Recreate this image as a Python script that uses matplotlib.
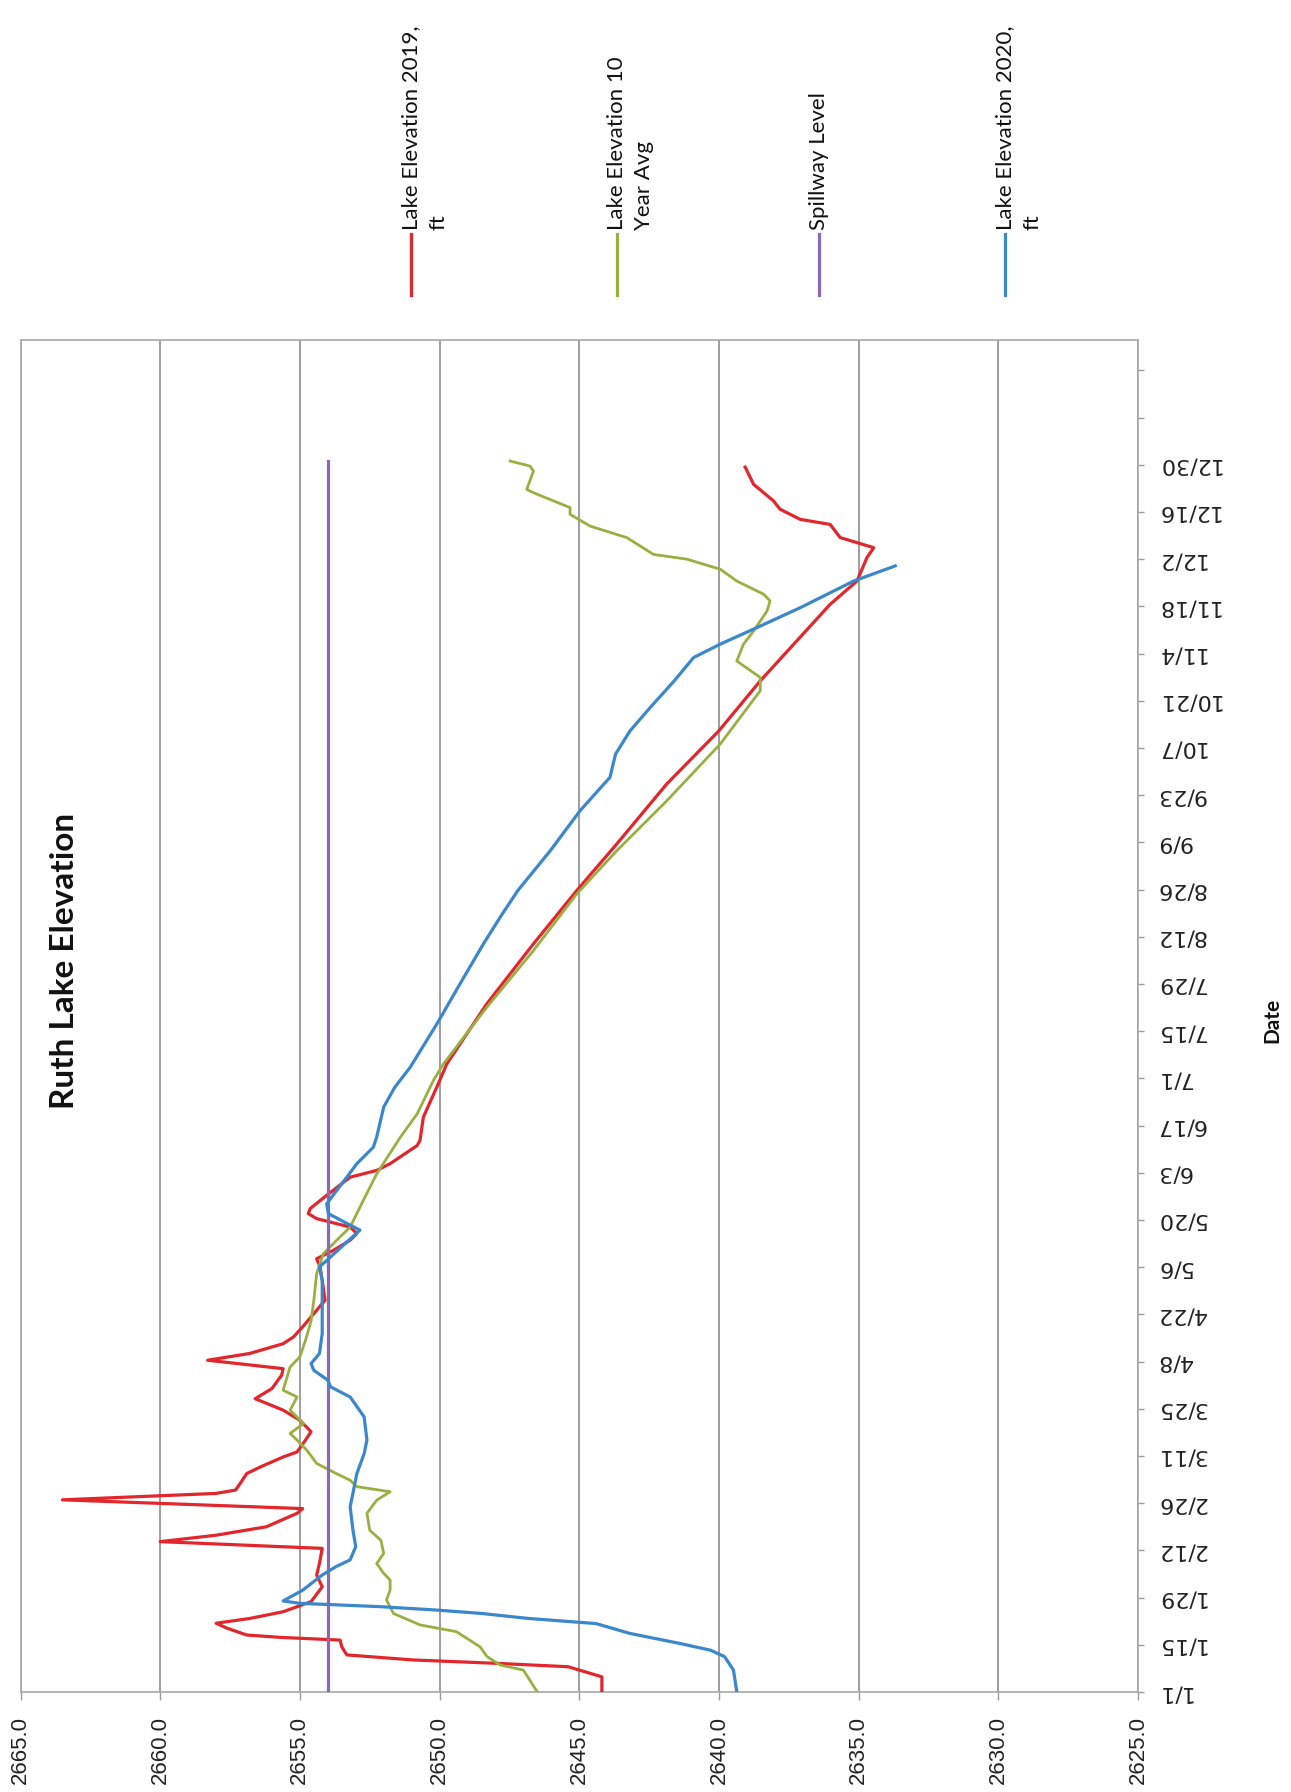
import numpy as np
import matplotlib
matplotlib.use("Agg")
import matplotlib.pyplot as plt
from matplotlib.lines import Line2D

# Day offsets from 1/1 (2020 is a leap year) and lake elevations in ft
days_2020 = [0, 6.5, 10.5, 12.4, 14.4, 17.4, 20.3, 21.8, 23.3, 24.3, 25.3, 26.3, 27.0, 30.2, 34.7,
             37.2, 39.2, 43.1, 48.0, 54.9, 64.8, 70.7, 74.7, 81.6, 87.5, 90.5, 92.5, 95.4, 97.4,
             100.4, 106.3, 113.2, 122.1, 126.1, 128.0, 137.0, 138.9, 141.9, 144.8, 148.8, 152.7,
             156.7, 161.6, 164.6, 173.5, 179.4, 185.3, 198.1, 210.0, 221.9, 229.8, 237.7, 249.5,
             261.4, 271.3, 278.2, 285.1, 292.0, 299.9, 306.8, 310.8, 315.7, 321.6, 329.5, 334.0]
elev_2020 = [2639.36, 2639.48, 2639.8, 2640.3, 2641.4, 2643.2, 2644.4, 2646.8, 2648.5, 2650.1,
             2652.1, 2655.0, 2655.6, 2654.9, 2654.2, 2653.7, 2653.2, 2653.0, 2653.1, 2653.2,
             2652.96, 2652.7, 2652.6, 2652.7, 2653.2, 2653.9, 2654.0, 2654.5, 2654.6, 2654.3,
             2654.2, 2654.2, 2654.2, 2654.3, 2654.04, 2652.85, 2653.3, 2653.98, 2654.04, 2653.68,
             2653.32, 2652.96, 2652.37, 2652.25, 2652.0, 2651.6, 2651.05, 2650.1, 2649.27, 2648.43,
             2647.83, 2647.2, 2646.04, 2644.97, 2643.9, 2643.7, 2643.18, 2642.46, 2641.6, 2640.91,
             2639.95, 2638.64, 2637.09, 2635.18, 2633.69]

days_2019 = [0, 4.5, 7.5, 8.5, 9.5, 11.0, 13.4, 15.4, 16.2, 16.9, 18.9, 20.4, 21.8, 23.8, 26.8,
             31.2, 34.7, 38.1, 42.6, 44.6, 46.5, 49.0, 53.0, 54.4, 57.0, 58.9, 59.9, 62.3, 64.8,
             66.8, 69.7, 71.2, 74.7, 77.2, 80.6, 83.6, 87.0, 90.0, 94.0, 95.9, 98.4, 100.4, 103.3,
             105.3, 108.3, 114.2, 116.2, 122.1, 126.1, 128.5, 131.0, 134.0, 136.0, 137.9, 140.4,
             141.9, 143.4, 147.3, 152.7, 154.7, 156.7, 162.1, 163.6, 170.5, 179.4, 186.3, 204.1,
             221.9, 237.7, 251.5, 269.3, 285.1, 299.9, 311.8, 322.6, 329.5, 336.5, 339.4, 342.4,
             346.3, 347.8, 350.8, 353.3, 358.2, 363.3]
elev_2019 = [2644.19, 2644.19, 2645.4, 2647.95, 2650.94, 2653.32, 2653.5, 2653.56, 2655.7, 2656.9,
             2657.6, 2658.0, 2656.8, 2655.6, 2654.6, 2654.2, 2654.4, 2654.3, 2654.2, 2660.0,
             2658.0, 2656.2, 2655.1, 2654.9, 2663.5, 2658.0, 2657.3, 2657.1, 2656.9, 2656.4,
             2655.6, 2655.1, 2654.8, 2654.6, 2655.0, 2655.6, 2656.6, 2656.0, 2655.65, 2655.6,
             2658.3, 2656.8, 2655.6, 2655.23, 2654.9, 2654.3, 2654.1, 2654.2, 2654.28, 2654.4,
             2653.8, 2653.2, 2652.96, 2653.2, 2654.4, 2654.7, 2654.63, 2654.04, 2653.2, 2652.25,
             2651.77, 2650.8, 2650.7, 2650.58, 2650.1, 2649.74, 2648.31, 2646.64, 2645.09, 2643.66,
             2641.87, 2640.0, 2638.52, 2637.21, 2636.02, 2635.06, 2634.7, 2634.46, 2635.66, 2636.02,
             2637.09, 2637.81, 2638.05, 2638.76, 2639.06]

days_avg = [0, 6.5, 8.0, 10.5, 13.4, 17.9, 19.9, 23.3, 27.3, 30.2, 33.2, 35.2, 38.1, 41.1, 45.0,
            48.0, 53.0, 56.9, 59.4, 60.9, 62.8, 64.8, 67.8, 71.7, 74.7, 76.7, 79.6, 83.6, 87.5,
            89.5, 96.4, 99.4, 104.3, 110.0, 116.2, 124.1, 130.0, 134.0, 137.9, 145.8, 153.7, 164.6,
            171.5, 181.4, 186.3, 203.1, 219.9, 236.7, 249.5, 264.3, 281.1, 297.0, 300.9, 305.8,
            310.8, 314.7, 320.6, 323.6, 325.6, 329.5, 333.0, 336.0, 337.4, 342.4, 345.8, 349.3,
            351.3, 355.7, 356.7, 362.1, 363.6, 365.1]
elev_avg = [2646.5, 2647.0, 2647.83, 2648.3, 2648.55, 2649.4, 2650.7, 2651.65, 2651.9, 2651.77,
            2651.77, 2652.0, 2652.25, 2652.0, 2652.1, 2652.5, 2652.6, 2652.25, 2651.77, 2652.96,
            2653.2, 2653.7, 2654.4, 2654.75, 2655.1, 2655.35, 2654.87, 2655.35, 2655.1, 2655.6,
            2655.35, 2655.0, 2654.8, 2654.6, 2654.5, 2654.4, 2654.16, 2653.68, 2653.2, 2652.73,
            2652.25, 2651.4, 2650.8, 2650.22, 2649.86, 2648.31, 2646.64, 2645.09, 2643.66, 2641.87,
            2639.96, 2638.52, 2638.52, 2639.36, 2639.12, 2638.76, 2638.28, 2638.17, 2638.4, 2639.36,
            2639.95, 2641.15, 2642.34, 2643.3, 2644.61, 2645.33, 2645.33, 2646.64, 2646.88, 2646.64,
            2646.76, 2647.47]

days_spill = [0, 365]
elev_spill = [2654.0, 2654.0]

elev_ticks = [2665, 2660, 2655, 2650, 2645, 2640, 2635, 2630, 2625]
date_ticks = list(range(0, 393, 14))
date_labels = ["1/1", "1/15", "1/29", "2/12", "2/26", "3/11", "3/25", "4/8", "4/22", "5/6",
               "5/20", "6/3", "6/17", "7/1", "7/15", "7/29", "8/12", "8/26", "9/9", "9/23",
               "10/7", "10/21", "11/4", "11/18", "12/2", "12/16", "12/30", "", ""]

series_names = ["Lake Elevation 2019,\nft", "Lake Elevation 10\nYear Avg",
                "Spillway Level", "Lake Elevation 2020,\nft"]
series_colors = ["#e3262c", "#98b040", "#8a68b4", "#3a87cc"]

W, H = 1291, 1792
fig = plt.figure(figsize=(W / 100, H / 100), dpi=100)
# the chart is a scanned page turned on its side: elevation runs across, dates run up
ax = fig.add_axes([20.5 / W, 1 - 1692 / H, (1138 - 20.5) / W, (1692 - 340) / H])

ax.plot(elev_2019, days_2019, color=series_colors[0], lw=2.3, zorder=3)
ax.plot(elev_avg, days_avg, color=series_colors[1], lw=2.0, zorder=3)
ax.plot(elev_spill, days_spill, color=series_colors[2], lw=2.3, zorder=3)
ax.plot(elev_2020, days_2020, color=series_colors[3], lw=2.3, zorder=4)

ax.set_xlim(2665, 2625)
ax.set_ylim(0, 401)
ax.set_xticks(elev_ticks)
ax.set_xticklabels([f"{v:.1f}" for v in elev_ticks], rotation=90,
                   fontsize=16, family="Liberation Sans", color="#222222")
ax.grid(axis="x", color="#8c8c8c", lw=1.2)
ax.set_axisbelow(True)

ax.yaxis.tick_right()
ax.set_yticks(date_ticks)
ax.set_yticklabels(date_labels, rotation=180, ha="left", va="center",
                   fontsize=16, family="DejaVu Sans", color="#222222")

ax.tick_params(axis="x", length=6, width=1, color="#9a9a9a", pad=11)
ax.tick_params(axis="y", length=4, width=1, color="#9a9a9a", pad=9)
for side in ["top", "bottom", "right", "left"]:
    ax.spines[side].set_color("#a8a8a8")
    ax.spines[side].set_linewidth(1.2)

# title and axis title
fig.text(65 / W, 1 - 961 / H, "Ruth Lake Elevation", rotation=90, ha="center", va="center",
         fontsize=24, fontweight="bold", family="Lato", color="#111111")
fig.text(1272 / W, 1 - 1020 / H, "Date", rotation=90, ha="center", va="center",
         fontsize=15, fontweight="bold", family="Lato", color="#111111")

# legend, laid out along the top of the page
legend_x = [411, 617, 819, 1005]
for name, color, lx in zip(series_names, series_colors, legend_x):
    fig.add_artist(Line2D([lx / W, lx / W], [1 - 295 / H, 1 - 234 / H],
                          color=color, lw=2.3, transform=fig.transFigure))
    fig.text((lx - 10) / W, 1 - 230 / H, name, rotation=90, ha="left", va="bottom",
             multialignment="left", linespacing=1.45, fontsize=16, family="Lato",
             color="#111111")

fig.savefig("out.png", dpi=100, facecolor="white")
